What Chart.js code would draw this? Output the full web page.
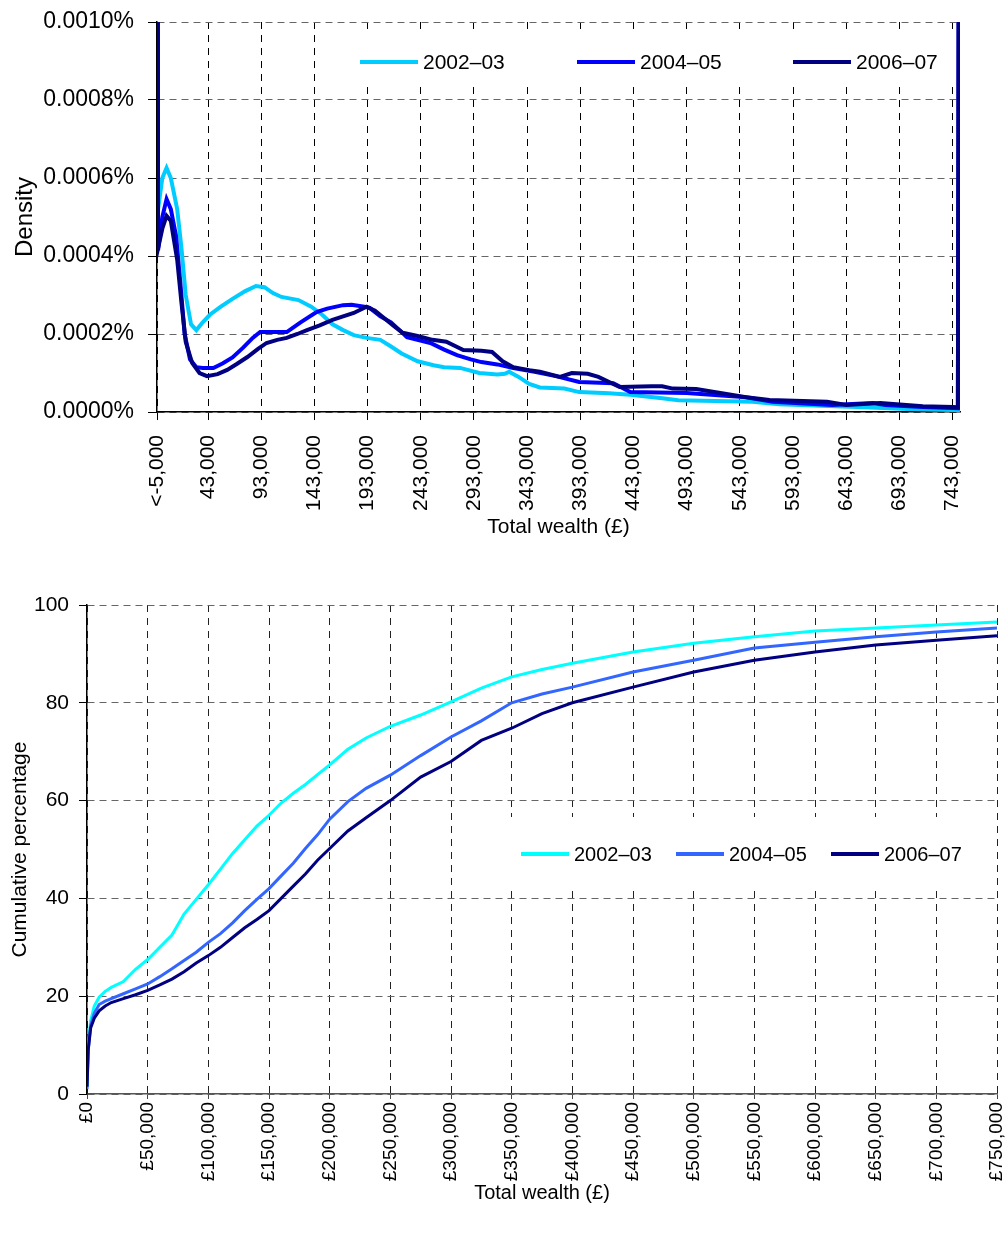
<!DOCTYPE html>
<html>
<head>
<meta charset="utf-8">
<script src="https://cdn.jsdelivr.net/npm/chart.js@4.4.0/dist/chart.umd.min.js"></script>
<style>
  html, body { margin: 0; padding: 0; background: #fff; }
  #densityBox { position: absolute; left: 0; top: 0; width: 1007px; height: 545px; }
  #cumBox { position: absolute; left: 0; top: 560px; width: 1007px; height: 675px; }
</style>
</head>
<body>
<div id="densityBox"><canvas id="densityChart" width="1007" height="545"></canvas></div>
<div id="cumBox"><canvas id="cumChart" width="1007" height="675"></canvas></div>
<script>
const seriesNames = ['2002–03', '2004–05', '2006–07'];

// top chart: density (%) against total wealth (£)
const density0203X = [-5000, -4000, 0, 4000, 8000, 14000, 18000, 22000, 27000, 32000, 38000, 45000, 55000, 66000, 78000, 88000, 96000, 104000, 112000, 128000, 140000, 150000, 160000, 170000, 180000, 192000, 205000, 215000, 225000, 240000, 255000, 265000, 280000, 298000, 315000, 322000, 326000, 335000, 345000, 355000, 378000, 392000, 420000, 440000, 470000, 485000, 555000, 580000, 600000, 660000, 700000, 745000, 749000, 750000];
const density0203Y = [0.003, 0.00052, 0.0006, 0.000626, 0.0006, 0.00052, 0.00042, 0.0003, 0.000225, 0.00021, 0.00023, 0.00025, 0.00027, 0.00029, 0.00031, 0.000323, 0.00032, 0.000305, 0.000295, 0.000287, 0.00027, 0.00025, 0.000225, 0.00021, 0.000197, 0.00019, 0.000185, 0.000168, 0.00015, 0.00013, 0.00012, 0.000115, 0.000113, 0.0001, 0.000096, 0.000098, 0.000103, 0.00009, 0.000072, 0.000063, 0.00006, 0.000051, 0.000048, 0.000044, 0.000035, 0.00003, 0.000026, 0.00002, 0.000018, 0.000012, 0.000008, 0.000005, 0.000003, 0.003];

const density0405X = [-5000, -4000, 0, 4000, 8000, 13000, 17000, 21000, 26000, 32000, 38000, 48000, 57000, 66000, 76000, 85000, 92000, 117000, 130000, 145000, 155000, 170000, 178000, 190000, 195000, 205000, 215000, 223000, 230000, 252000, 265000, 277000, 290000, 300000, 315000, 330000, 350000, 370000, 392000, 424000, 440000, 493000, 549000, 574000, 630000, 668000, 680000, 715000, 748000, 750000];
const density0405Y = [0.003, 0.000415, 0.0005, 0.000546, 0.00052, 0.00045, 0.00033, 0.0002, 0.000135, 0.000115, 0.000113, 0.000113, 0.000125, 0.00014, 0.000165, 0.00019, 0.000205, 0.000205, 0.00023, 0.000256, 0.000265, 0.000274, 0.000275, 0.00027, 0.000267, 0.000245, 0.00023, 0.00021, 0.000192, 0.000177, 0.00016, 0.000146, 0.000135, 0.000128, 0.000122, 0.000113, 0.000103, 0.000092, 0.000077, 0.000074, 0.000051, 0.000049, 0.000038, 0.000026, 0.000018, 0.000023, 0.000018, 0.000013, 0.00001, 0.003];

const density0607X = [-5000, -4000, 0, 4000, 8000, 14000, 18000, 22000, 28000, 35000, 42000, 52000, 61000, 70000, 80000, 90000, 98000, 108000, 117000, 127000, 136000, 148000, 160000, 170000, 180000, 192000, 200000, 207000, 217000, 226000, 240000, 254000, 267000, 283000, 300000, 310000, 320000, 330000, 345000, 355000, 374000, 385000, 400000, 410000, 430000, 460000, 470000, 480000, 502000, 549000, 571000, 625000, 643000, 675000, 715000, 743000, 748000, 750000];
const density0607Y = [0.003, 0.00042, 0.00047, 0.000503, 0.00049, 0.00039, 0.00028, 0.00018, 0.000126, 0.0001, 0.000092, 0.000097, 0.000108, 0.000123, 0.000141, 0.000162, 0.000177, 0.000185, 0.00019, 0.0002, 0.00021, 0.000222, 0.000236, 0.000245, 0.000254, 0.00027, 0.00026, 0.000244, 0.000222, 0.000203, 0.000195, 0.000185, 0.00018, 0.000159, 0.000157, 0.000154, 0.00013, 0.000115, 0.000107, 0.000103, 0.00009, 0.0001, 0.000098, 0.00009, 0.000064, 0.000066, 0.000066, 0.00006, 0.000059, 0.000038, 0.000031, 0.000026, 0.000018, 0.000023, 0.000015, 0.000013, 0.000012, 0.003];

const densityTickValues = [-5000, 43000, 93000, 143000, 193000, 243000, 293000, 343000, 393000, 443000, 493000, 543000, 593000, 643000, 693000, 743000];
const densityTickLabels = ['<-5,000', '43,000', '93,000', '143,000', '193,000', '243,000', '293,000', '343,000', '393,000', '443,000', '493,000', '543,000', '593,000', '643,000', '693,000', '743,000'];
const densityYTicks = [0, 0.0002, 0.0004, 0.0006, 0.0008, 0.001];

// bottom chart: cumulative percentage against total wealth (£)
const cumWealth = [0, 1000, 3000, 6000, 10000, 15000, 20000, 30000, 40000, 50000, 60000, 70000, 80000, 90000, 100000, 110000, 120000, 130000, 140000, 150000, 160000, 170000, 180000, 190000, 200000, 215000, 230000, 250000, 275000, 300000, 325000, 350000, 375000, 400000, 450000, 500000, 550000, 600000, 650000, 700000, 750000];
const cum0203 = [1.5, 10, 15, 18, 19.8, 21, 21.8, 23, 25.5, 27.5, 30, 32.5, 36.8, 39.8, 42.8, 46, 49.2, 52, 54.8, 57, 59.5, 61.5, 63.3, 65.3, 67.3, 70.5, 72.8, 75.2, 77.5, 80.2, 83, 85.3, 86.8, 88.1, 90.4, 92.2, 93.5, 94.7, 95.3, 95.9, 96.5];
const cum0405 = [1, 9, 14, 16.5, 18.3, 19, 19.5, 20.5, 21.5, 22.5, 24, 25.6, 27.3, 29, 31, 32.8, 35, 37.5, 39.8, 42, 44.6, 47.2, 50.2, 53, 56.2, 59.8, 62.5, 65.2, 69.2, 73, 76.3, 80, 81.8, 83.2, 86.3, 88.7, 91.2, 92.4, 93.5, 94.5, 95.3];
const cum0607 = [1.5, 9, 13.5, 15.5, 17, 18, 18.7, 19.5, 20.3, 21.2, 22.3, 23.5, 25, 26.8, 28.3, 30, 32, 34, 35.7, 37.5, 40, 42.5, 45, 47.8, 50.2, 53.8, 56.5, 60, 64.8, 68, 72.3, 74.8, 77.8, 80, 83.2, 86.3, 88.7, 90.4, 91.8, 92.8, 93.7];

const cumTickValues = [0, 50000, 100000, 150000, 200000, 250000, 300000, 350000, 400000, 450000, 500000, 550000, 600000, 650000, 700000, 750000];
const cumTickLabels = ['£0', '£50,000', '£100,000', '£150,000', '£200,000', '£250,000', '£300,000', '£350,000', '£400,000', '£450,000', '£500,000', '£550,000', '£600,000', '£650,000', '£700,000', '£750,000'];
const cumYTicks = [0, 20, 40, 60, 80, 100];

Chart.defaults.font.family = '"Liberation Sans", Arial, sans-serif';
Chart.defaults.color = '#000';

function toPoints(xs, ys) {
    return xs.map((x, i) => ({ x: x, y: ys[i] }));
}

// legend drawn inside the plot, on a white box that hides the grid
const boxLegend = {
    id: 'boxLegend',
    beforeDatasetsDraw(chart, args, opts) {
        const ctx = chart.ctx;
        ctx.save();
        ctx.fillStyle = '#fff';
        ctx.fillRect(opts.box[0], opts.box[1], opts.box[2], opts.box[3]);
        ctx.font = opts.font;
        ctx.textBaseline = 'middle';
        chart.data.datasets.forEach((ds, i) => {
            const it = opts.items[i];
            ctx.strokeStyle = ds.borderColor;
            ctx.lineWidth = opts.lineWidth;
            ctx.beginPath();
            ctx.moveTo(it[0], opts.y);
            ctx.lineTo(it[1], opts.y);
            ctx.stroke();
            ctx.fillStyle = '#000';
            ctx.fillText(ds.label, it[1] + 5, opts.y + 1);
        });
        ctx.restore();
    }
};

new Chart(document.getElementById('densityChart'), {
    type: 'line',
    data: {
        datasets: [
            { label: seriesNames[0], data: toPoints(density0203X, density0203Y), borderColor: '#00CCFF', borderWidth: 4, order: 3 },
            { label: seriesNames[1], data: toPoints(density0405X, density0405Y), borderColor: '#0000FF', borderWidth: 4, order: 2 },
            { label: seriesNames[2], data: toPoints(density0607X, density0607Y), borderColor: '#000080', borderWidth: 4, order: 1 }
        ]
    },
    options: {
        responsive: false,
        animation: false,
        layout: { padding: { top: 22, right: 47, bottom: 0, left: 0 } },
        elements: { point: { radius: 0 }, line: { tension: 0 } },
        plugins: {
            legend: { display: false },
            tooltip: { enabled: false },
            boxLegend: {
                box: [340, 31, 618, 55], y: 62, lineWidth: 4,
                items: [[360, 418], [577, 635], [793, 851]],
                font: '21px "Liberation Sans", Arial, sans-serif'
            }
        },
        scales: {
            x: {
                type: 'linear', min: -5000, max: 750000,
                afterBuildTicks: s => { s.ticks = densityTickValues.map(v => ({ value: v })); },
                afterFit: s => { s.height = 133; s.paddingLeft = 0; s.paddingRight = 0; },
                ticks: {
                    autoSkip: false, minRotation: 90, maxRotation: 90, padding: 15,
                    font: { size: 21 },
                    callback: (v, i) => densityTickLabels[i]
                },
                grid: { color: '#000', tickColor: '#000', tickLength: 8 },
                border: { color: '#000', width: 1.5, dash: [7, 6] },
                title: { display: true, text: 'Total wealth (£)', font: { size: 21 }, padding: { top: 0, bottom: 5 } }
            },
            y: {
                min: 0, max: 0.001,
                afterBuildTicks: s => { s.ticks = densityYTicks.map(v => ({ value: v })); },
                afterFit: s => { s.width = 157; s.paddingTop = 0; s.paddingBottom = 0; },
                ticks: { padding: 14, font: { size: 23 }, callback: v => v.toFixed(4) + '%' },
                grid: { color: '#666', tickColor: '#000', tickLength: 9 },
                border: { color: '#000', width: 1.5, dash: [7, 5] },
                title: { display: true, text: 'Density', font: { size: 24 }, padding: { top: 11, bottom: 0 } }
            }
        }
    },
    plugins: [boxLegend]
});

new Chart(document.getElementById('cumChart'), {
    type: 'line',
    data: {
        datasets: [
            { label: seriesNames[0], data: toPoints(cumWealth, cum0203), borderColor: '#00FFFF', borderWidth: 3, order: 3 },
            { label: seriesNames[1], data: toPoints(cumWealth, cum0405), borderColor: '#3366FF', borderWidth: 3, order: 2 },
            { label: seriesNames[2], data: toPoints(cumWealth, cum0607), borderColor: '#000080', borderWidth: 3, order: 1 }
        ]
    },
    options: {
        responsive: false,
        animation: false,
        layout: { padding: { top: 45, right: 10, bottom: 0, left: 0 } },
        elements: { point: { radius: 0 }, line: { tension: 0 } },
        plugins: {
            legend: { display: false },
            tooltip: { enabled: false },
            boxLegend: {
                box: [500, 257, 485, 71], y: 294, lineWidth: 4,
                items: [[521, 569], [676, 724], [831, 879]],
                font: '20px "Liberation Sans", Arial, sans-serif'
            }
        },
        scales: {
            x: {
                type: 'linear', min: 0, max: 750000,
                afterBuildTicks: s => { s.ticks = cumTickValues.map(v => ({ value: v })); },
                afterFit: s => { s.height = 141; s.paddingLeft = 0; s.paddingRight = 0; },
                ticks: {
                    autoSkip: false, minRotation: 90, maxRotation: 90, padding: 3,
                    font: { size: 19 },
                    callback: (v, i) => cumTickLabels[i]
                },
                grid: { color: '#222', tickColor: '#444', tickLength: 5 },
                border: { color: '#555', width: 1.5, dash: [7, 6] },
                title: { display: true, text: 'Total wealth (£)', font: { size: 20 }, padding: { top: 0, bottom: 30 } }
            },
            y: {
                min: 0, max: 100,
                afterBuildTicks: s => { s.ticks = cumYTicks.map(v => ({ value: v })); },
                afterFit: s => { s.width = 87; s.paddingTop = 0; s.paddingBottom = 0; },
                ticks: { padding: 10, font: { size: 21 } },
                grid: { color: '#666', tickColor: '#000', tickLength: 8 },
                border: { color: '#000', width: 1.5, dash: [7, 5] },
                title: { display: true, text: 'Cumulative percentage', font: { size: 21 }, padding: { top: 8, bottom: 0 } }
            }
        }
    },
    plugins: [boxLegend]
});
</script>
</body>
</html>
